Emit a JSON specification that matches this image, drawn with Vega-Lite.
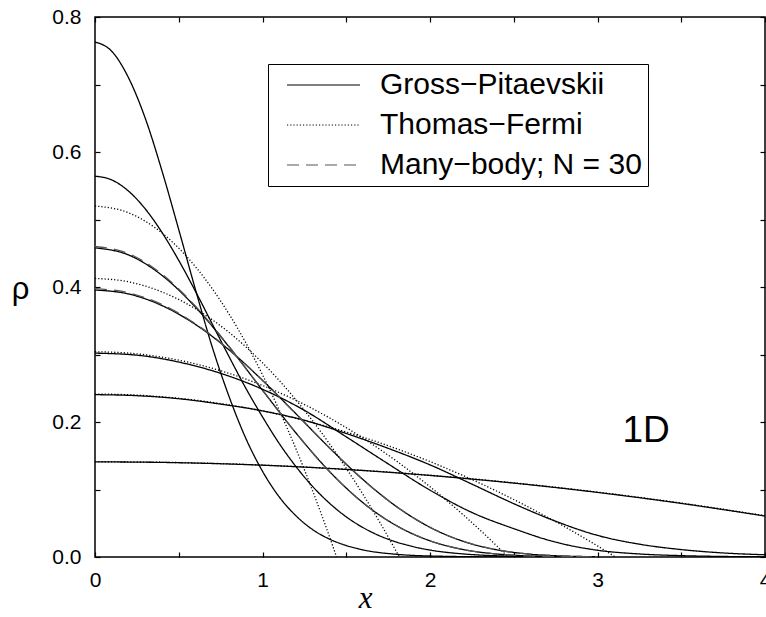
{
  "$schema": "https://vega.github.io/schema/vega-lite/v6.json",
  "width": 670,
  "height": 540,
  "autosize": "none",
  "padding": {"left": 95, "top": 17, "right": 1, "bottom": 60},
  "background": "white",
  "config": {
    "view": {"stroke": "black", "strokeWidth": 1.5},
    "font": "Liberation Sans"
  },
  "datasets": {
    "curves": [
      {"curve": "GPa", "method": "Gross−Pitaevskii", "x": 0, "y": 0.763},
      {"curve": "GPa", "method": "Gross−Pitaevskii", "x": 0.1, "y": 0.7492},
      {"curve": "GPa", "method": "Gross−Pitaevskii", "x": 0.2, "y": 0.71},
      {"curve": "GPa", "method": "Gross−Pitaevskii", "x": 0.3, "y": 0.65},
      {"curve": "GPa", "method": "Gross−Pitaevskii", "x": 0.4, "y": 0.572},
      {"curve": "GPa", "method": "Gross−Pitaevskii", "x": 0.5, "y": 0.485},
      {"curve": "GPa", "method": "Gross−Pitaevskii", "x": 0.6, "y": 0.396},
      {"curve": "GPa", "method": "Gross−Pitaevskii", "x": 0.7, "y": 0.311},
      {"curve": "GPa", "method": "Gross−Pitaevskii", "x": 0.8, "y": 0.238},
      {"curve": "GPa", "method": "Gross−Pitaevskii", "x": 0.9, "y": 0.176},
      {"curve": "GPa", "method": "Gross−Pitaevskii", "x": 1.0, "y": 0.127},
      {"curve": "GPa", "method": "Gross−Pitaevskii", "x": 1.1, "y": 0.089},
      {"curve": "GPa", "method": "Gross−Pitaevskii", "x": 1.2, "y": 0.061},
      {"curve": "GPa", "method": "Gross−Pitaevskii", "x": 1.3, "y": 0.0405},
      {"curve": "GPa", "method": "Gross−Pitaevskii", "x": 1.4, "y": 0.0265},
      {"curve": "GPa", "method": "Gross−Pitaevskii", "x": 1.5, "y": 0.017},
      {"curve": "GPa", "method": "Gross−Pitaevskii", "x": 1.6, "y": 0.0105},
      {"curve": "GPa", "method": "Gross−Pitaevskii", "x": 1.8, "y": 0.004},
      {"curve": "GPa", "method": "Gross−Pitaevskii", "x": 2.0, "y": 0.0015},
      {"curve": "GPa", "method": "Gross−Pitaevskii", "x": 2.4, "y": 0.0002},
      {"curve": "GPa", "method": "Gross−Pitaevskii", "x": 3.0, "y": 0},
      {"curve": "GP0", "method": "Gross−Pitaevskii", "x": 0, "y": 0.5642},
      {"curve": "GP0", "method": "Gross−Pitaevskii", "x": 0.1, "y": 0.5586},
      {"curve": "GP0", "method": "Gross−Pitaevskii", "x": 0.2, "y": 0.5421},
      {"curve": "GP0", "method": "Gross−Pitaevskii", "x": 0.3, "y": 0.5157},
      {"curve": "GP0", "method": "Gross−Pitaevskii", "x": 0.4, "y": 0.4808},
      {"curve": "GP0", "method": "Gross−Pitaevskii", "x": 0.5, "y": 0.4394},
      {"curve": "GP0", "method": "Gross−Pitaevskii", "x": 0.6, "y": 0.3935},
      {"curve": "GP0", "method": "Gross−Pitaevskii", "x": 0.7, "y": 0.3452},
      {"curve": "GP0", "method": "Gross−Pitaevskii", "x": 0.8, "y": 0.297},
      {"curve": "GP0", "method": "Gross−Pitaevskii", "x": 0.9, "y": 0.2502},
      {"curve": "GP0", "method": "Gross−Pitaevskii", "x": 1.0, "y": 0.2076},
      {"curve": "GP0", "method": "Gross−Pitaevskii", "x": 1.1, "y": 0.1681},
      {"curve": "GP0", "method": "Gross−Pitaevskii", "x": 1.2, "y": 0.1339},
      {"curve": "GP0", "method": "Gross−Pitaevskii", "x": 1.3, "y": 0.1043},
      {"curve": "GP0", "method": "Gross−Pitaevskii", "x": 1.4, "y": 0.0797},
      {"curve": "GP0", "method": "Gross−Pitaevskii", "x": 1.5, "y": 0.0595},
      {"curve": "GP0", "method": "Gross−Pitaevskii", "x": 1.6, "y": 0.0436},
      {"curve": "GP0", "method": "Gross−Pitaevskii", "x": 1.7, "y": 0.0313},
      {"curve": "GP0", "method": "Gross−Pitaevskii", "x": 1.8, "y": 0.0221},
      {"curve": "GP0", "method": "Gross−Pitaevskii", "x": 1.9, "y": 0.0153},
      {"curve": "GP0", "method": "Gross−Pitaevskii", "x": 2.0, "y": 0.0103},
      {"curve": "GP0", "method": "Gross−Pitaevskii", "x": 2.2, "y": 0.0045},
      {"curve": "GP0", "method": "Gross−Pitaevskii", "x": 2.4, "y": 0.0018},
      {"curve": "GP0", "method": "Gross−Pitaevskii", "x": 2.6, "y": 0.0007},
      {"curve": "GP0", "method": "Gross−Pitaevskii", "x": 3.0, "y": 0.0001},
      {"curve": "GP2", "method": "Gross−Pitaevskii", "x": 0, "y": 0.458},
      {"curve": "GP2", "method": "Gross−Pitaevskii", "x": 0.2, "y": 0.4475},
      {"curve": "GP2", "method": "Gross−Pitaevskii", "x": 0.4, "y": 0.4172},
      {"curve": "GP2", "method": "Gross−Pitaevskii", "x": 0.6, "y": 0.3702},
      {"curve": "GP2", "method": "Gross−Pitaevskii", "x": 0.8, "y": 0.3114},
      {"curve": "GP2", "method": "Gross−Pitaevskii", "x": 1.0, "y": 0.2471},
      {"curve": "GP2", "method": "Gross−Pitaevskii", "x": 1.2, "y": 0.1837},
      {"curve": "GP2", "method": "Gross−Pitaevskii", "x": 1.4, "y": 0.1267},
      {"curve": "GP2", "method": "Gross−Pitaevskii", "x": 1.6, "y": 0.0804},
      {"curve": "GP2", "method": "Gross−Pitaevskii", "x": 1.8, "y": 0.0464},
      {"curve": "GP2", "method": "Gross−Pitaevskii", "x": 2.0, "y": 0.024},
      {"curve": "GP2", "method": "Gross−Pitaevskii", "x": 2.2, "y": 0.011},
      {"curve": "GP2", "method": "Gross−Pitaevskii", "x": 2.4, "y": 0.0044},
      {"curve": "GP2", "method": "Gross−Pitaevskii", "x": 2.6, "y": 0.0015},
      {"curve": "GP2", "method": "Gross−Pitaevskii", "x": 2.8, "y": 0.0004},
      {"curve": "GP2", "method": "Gross−Pitaevskii", "x": 3.0, "y": 0.0001},
      {"curve": "GP4", "method": "Gross−Pitaevskii", "x": 0, "y": 0.3955},
      {"curve": "GP4", "method": "Gross−Pitaevskii", "x": 0.2, "y": 0.3897},
      {"curve": "GP4", "method": "Gross−Pitaevskii", "x": 0.4, "y": 0.3725},
      {"curve": "GP4", "method": "Gross−Pitaevskii", "x": 0.6, "y": 0.3445},
      {"curve": "GP4", "method": "Gross−Pitaevskii", "x": 0.8, "y": 0.3069},
      {"curve": "GP4", "method": "Gross−Pitaevskii", "x": 1.0, "y": 0.2617},
      {"curve": "GP4", "method": "Gross−Pitaevskii", "x": 1.2, "y": 0.2121},
      {"curve": "GP4", "method": "Gross−Pitaevskii", "x": 1.4, "y": 0.1617},
      {"curve": "GP4", "method": "Gross−Pitaevskii", "x": 1.6, "y": 0.1147},
      {"curve": "GP4", "method": "Gross−Pitaevskii", "x": 1.8, "y": 0.0747},
      {"curve": "GP4", "method": "Gross−Pitaevskii", "x": 2.0, "y": 0.044},
      {"curve": "GP4", "method": "Gross−Pitaevskii", "x": 2.2, "y": 0.0231},
      {"curve": "GP4", "method": "Gross−Pitaevskii", "x": 2.4, "y": 0.0106},
      {"curve": "GP4", "method": "Gross−Pitaevskii", "x": 2.6, "y": 0.0041},
      {"curve": "GP4", "method": "Gross−Pitaevskii", "x": 2.8, "y": 0.0014},
      {"curve": "GP4", "method": "Gross−Pitaevskii", "x": 3.0, "y": 0.0004},
      {"curve": "GP10", "method": "Gross−Pitaevskii", "x": 0, "y": 0.302},
      {"curve": "GP10", "method": "Gross−Pitaevskii", "x": 0.25, "y": 0.299},
      {"curve": "GP10", "method": "Gross−Pitaevskii", "x": 0.5, "y": 0.2888},
      {"curve": "GP10", "method": "Gross−Pitaevskii", "x": 0.75, "y": 0.2721},
      {"curve": "GP10", "method": "Gross−Pitaevskii", "x": 1.0, "y": 0.2485},
      {"curve": "GP10", "method": "Gross−Pitaevskii", "x": 1.25, "y": 0.2173},
      {"curve": "GP10", "method": "Gross−Pitaevskii", "x": 1.5, "y": 0.178},
      {"curve": "GP10", "method": "Gross−Pitaevskii", "x": 1.75, "y": 0.138},
      {"curve": "GP10", "method": "Gross−Pitaevskii", "x": 2.0, "y": 0.099},
      {"curve": "GP10", "method": "Gross−Pitaevskii", "x": 2.25, "y": 0.066},
      {"curve": "GP10", "method": "Gross−Pitaevskii", "x": 2.5, "y": 0.042},
      {"curve": "GP10", "method": "Gross−Pitaevskii", "x": 2.75, "y": 0.022},
      {"curve": "GP10", "method": "Gross−Pitaevskii", "x": 3.0, "y": 0.01},
      {"curve": "GP10", "method": "Gross−Pitaevskii", "x": 3.25, "y": 0.0045},
      {"curve": "GP10", "method": "Gross−Pitaevskii", "x": 3.5, "y": 0.002},
      {"curve": "GP10", "method": "Gross−Pitaevskii", "x": 3.75, "y": 0.0008},
      {"curve": "GP10", "method": "Gross−Pitaevskii", "x": 4.0, "y": 0.0003},
      {"curve": "GP20", "method": "Gross−Pitaevskii", "x": 0, "y": 0.2405},
      {"curve": "GP20", "method": "Gross−Pitaevskii", "x": 0.25, "y": 0.239},
      {"curve": "GP20", "method": "Gross−Pitaevskii", "x": 0.5, "y": 0.2345},
      {"curve": "GP20", "method": "Gross−Pitaevskii", "x": 0.75, "y": 0.2265},
      {"curve": "GP20", "method": "Gross−Pitaevskii", "x": 1.0, "y": 0.2165},
      {"curve": "GP20", "method": "Gross−Pitaevskii", "x": 1.25, "y": 0.2025},
      {"curve": "GP20", "method": "Gross−Pitaevskii", "x": 1.5, "y": 0.183},
      {"curve": "GP20", "method": "Gross−Pitaevskii", "x": 1.75, "y": 0.161},
      {"curve": "GP20", "method": "Gross−Pitaevskii", "x": 2.0, "y": 0.1365},
      {"curve": "GP20", "method": "Gross−Pitaevskii", "x": 2.25, "y": 0.108},
      {"curve": "GP20", "method": "Gross−Pitaevskii", "x": 2.5, "y": 0.079},
      {"curve": "GP20", "method": "Gross−Pitaevskii", "x": 2.75, "y": 0.053},
      {"curve": "GP20", "method": "Gross−Pitaevskii", "x": 3.0, "y": 0.032},
      {"curve": "GP20", "method": "Gross−Pitaevskii", "x": 3.25, "y": 0.019},
      {"curve": "GP20", "method": "Gross−Pitaevskii", "x": 3.5, "y": 0.011},
      {"curve": "GP20", "method": "Gross−Pitaevskii", "x": 3.75, "y": 0.006},
      {"curve": "GP20", "method": "Gross−Pitaevskii", "x": 4.0, "y": 0.0033},
      {"curve": "GP100", "method": "Gross−Pitaevskii", "x": 0, "y": 0.141},
      {"curve": "GP100", "method": "Gross−Pitaevskii", "x": 0.5, "y": 0.1397},
      {"curve": "GP100", "method": "Gross−Pitaevskii", "x": 1.0, "y": 0.136},
      {"curve": "GP100", "method": "Gross−Pitaevskii", "x": 1.5, "y": 0.1297},
      {"curve": "GP100", "method": "Gross−Pitaevskii", "x": 2.0, "y": 0.1208},
      {"curve": "GP100", "method": "Gross−Pitaevskii", "x": 2.5, "y": 0.1095},
      {"curve": "GP100", "method": "Gross−Pitaevskii", "x": 3.0, "y": 0.0957},
      {"curve": "GP100", "method": "Gross−Pitaevskii", "x": 3.5, "y": 0.0794},
      {"curve": "GP100", "method": "Gross−Pitaevskii", "x": 4.0, "y": 0.0607},
      {"curve": "TF2", "method": "Thomas−Fermi", "x": 0, "y": 0.52},
      {"curve": "TF2", "method": "Thomas−Fermi", "x": 0.2, "y": 0.51},
      {"curve": "TF2", "method": "Thomas−Fermi", "x": 0.4, "y": 0.48},
      {"curve": "TF2", "method": "Thomas−Fermi", "x": 0.6, "y": 0.43},
      {"curve": "TF2", "method": "Thomas−Fermi", "x": 0.8, "y": 0.36},
      {"curve": "TF2", "method": "Thomas−Fermi", "x": 1.0, "y": 0.27},
      {"curve": "TF2", "method": "Thomas−Fermi", "x": 1.2, "y": 0.16},
      {"curve": "TF2", "method": "Thomas−Fermi", "x": 1.3, "y": 0.0975},
      {"curve": "TF2", "method": "Thomas−Fermi", "x": 1.4, "y": 0.03},
      {"curve": "TF2", "method": "Thomas−Fermi", "x": 1.4422, "y": 0},
      {"curve": "TF4", "method": "Thomas−Fermi", "x": 0, "y": 0.4127},
      {"curve": "TF4", "method": "Thomas−Fermi", "x": 0.2, "y": 0.4077},
      {"curve": "TF4", "method": "Thomas−Fermi", "x": 0.4, "y": 0.3927},
      {"curve": "TF4", "method": "Thomas−Fermi", "x": 0.6, "y": 0.3677},
      {"curve": "TF4", "method": "Thomas−Fermi", "x": 0.8, "y": 0.3327},
      {"curve": "TF4", "method": "Thomas−Fermi", "x": 1.0, "y": 0.2877},
      {"curve": "TF4", "method": "Thomas−Fermi", "x": 1.2, "y": 0.2327},
      {"curve": "TF4", "method": "Thomas−Fermi", "x": 1.4, "y": 0.1677},
      {"curve": "TF4", "method": "Thomas−Fermi", "x": 1.6, "y": 0.0927},
      {"curve": "TF4", "method": "Thomas−Fermi", "x": 1.7, "y": 0.0515},
      {"curve": "TF4", "method": "Thomas−Fermi", "x": 1.8, "y": 0.0077},
      {"curve": "TF4", "method": "Thomas−Fermi", "x": 1.8171, "y": 0},
      {"curve": "TF10", "method": "Thomas−Fermi", "x": 0, "y": 0.3041},
      {"curve": "TF10", "method": "Thomas−Fermi", "x": 0.2, "y": 0.3021},
      {"curve": "TF10", "method": "Thomas−Fermi", "x": 0.4, "y": 0.2961},
      {"curve": "TF10", "method": "Thomas−Fermi", "x": 0.6, "y": 0.2861},
      {"curve": "TF10", "method": "Thomas−Fermi", "x": 0.8, "y": 0.2721},
      {"curve": "TF10", "method": "Thomas−Fermi", "x": 1.0, "y": 0.2541},
      {"curve": "TF10", "method": "Thomas−Fermi", "x": 1.2, "y": 0.2321},
      {"curve": "TF10", "method": "Thomas−Fermi", "x": 1.4, "y": 0.2061},
      {"curve": "TF10", "method": "Thomas−Fermi", "x": 1.6, "y": 0.1761},
      {"curve": "TF10", "method": "Thomas−Fermi", "x": 1.8, "y": 0.1421},
      {"curve": "TF10", "method": "Thomas−Fermi", "x": 2.0, "y": 0.1041},
      {"curve": "TF10", "method": "Thomas−Fermi", "x": 2.2, "y": 0.0621},
      {"curve": "TF10", "method": "Thomas−Fermi", "x": 2.4, "y": 0.0161},
      {"curve": "TF10", "method": "Thomas−Fermi", "x": 2.4662, "y": 0},
      {"curve": "TF20", "method": "Thomas−Fermi", "x": 0, "y": 0.2414},
      {"curve": "TF20", "method": "Thomas−Fermi", "x": 0.2, "y": 0.2404},
      {"curve": "TF20", "method": "Thomas−Fermi", "x": 0.4, "y": 0.2374},
      {"curve": "TF20", "method": "Thomas−Fermi", "x": 0.6, "y": 0.2324},
      {"curve": "TF20", "method": "Thomas−Fermi", "x": 0.8, "y": 0.2254},
      {"curve": "TF20", "method": "Thomas−Fermi", "x": 1.0, "y": 0.2164},
      {"curve": "TF20", "method": "Thomas−Fermi", "x": 1.2, "y": 0.2054},
      {"curve": "TF20", "method": "Thomas−Fermi", "x": 1.4, "y": 0.1924},
      {"curve": "TF20", "method": "Thomas−Fermi", "x": 1.6, "y": 0.1774},
      {"curve": "TF20", "method": "Thomas−Fermi", "x": 1.8, "y": 0.1604},
      {"curve": "TF20", "method": "Thomas−Fermi", "x": 2.0, "y": 0.1414},
      {"curve": "TF20", "method": "Thomas−Fermi", "x": 2.2, "y": 0.1204},
      {"curve": "TF20", "method": "Thomas−Fermi", "x": 2.4, "y": 0.0974},
      {"curve": "TF20", "method": "Thomas−Fermi", "x": 2.6, "y": 0.0724},
      {"curve": "TF20", "method": "Thomas−Fermi", "x": 2.8, "y": 0.0454},
      {"curve": "TF20", "method": "Thomas−Fermi", "x": 3.0, "y": 0.0164},
      {"curve": "TF20", "method": "Thomas−Fermi", "x": 3.1072, "y": 0},
      {"curve": "TF100", "method": "Thomas−Fermi", "x": 0, "y": 0.1412},
      {"curve": "TF100", "method": "Thomas−Fermi", "x": 0.5, "y": 0.1399},
      {"curve": "TF100", "method": "Thomas−Fermi", "x": 1.0, "y": 0.1362},
      {"curve": "TF100", "method": "Thomas−Fermi", "x": 1.5, "y": 0.1299},
      {"curve": "TF100", "method": "Thomas−Fermi", "x": 2.0, "y": 0.1212},
      {"curve": "TF100", "method": "Thomas−Fermi", "x": 2.5, "y": 0.1099},
      {"curve": "TF100", "method": "Thomas−Fermi", "x": 3.0, "y": 0.0962},
      {"curve": "TF100", "method": "Thomas−Fermi", "x": 3.5, "y": 0.0799},
      {"curve": "TF100", "method": "Thomas−Fermi", "x": 4.0, "y": 0.0612},
      {"curve": "MB2", "method": "Many−body; N = 30", "x": 0, "y": 0.46},
      {"curve": "MB2", "method": "Many−body; N = 30", "x": 0.2, "y": 0.4495},
      {"curve": "MB2", "method": "Many−body; N = 30", "x": 0.4, "y": 0.419},
      {"curve": "MB2", "method": "Many−body; N = 30", "x": 0.6, "y": 0.3715},
      {"curve": "MB2", "method": "Many−body; N = 30", "x": 0.8, "y": 0.312},
      {"curve": "MB2", "method": "Many−body; N = 30", "x": 1.0, "y": 0.2472},
      {"curve": "MB2", "method": "Many−body; N = 30", "x": 1.2, "y": 0.1836},
      {"curve": "MB2", "method": "Many−body; N = 30", "x": 1.4, "y": 0.1265},
      {"curve": "MB2", "method": "Many−body; N = 30", "x": 1.6, "y": 0.0802},
      {"curve": "MB2", "method": "Many−body; N = 30", "x": 1.8, "y": 0.0463},
      {"curve": "MB2", "method": "Many−body; N = 30", "x": 2.0, "y": 0.024},
      {"curve": "MB2", "method": "Many−body; N = 30", "x": 2.2, "y": 0.011},
      {"curve": "MB2", "method": "Many−body; N = 30", "x": 2.4, "y": 0.0044},
      {"curve": "MB2", "method": "Many−body; N = 30", "x": 2.6, "y": 0.0015},
      {"curve": "MB2", "method": "Many−body; N = 30", "x": 3.0, "y": 0.0001},
      {"curve": "MB4", "method": "Many−body; N = 30", "x": 0, "y": 0.3975},
      {"curve": "MB4", "method": "Many−body; N = 30", "x": 0.2, "y": 0.3915},
      {"curve": "MB4", "method": "Many−body; N = 30", "x": 0.4, "y": 0.374},
      {"curve": "MB4", "method": "Many−body; N = 30", "x": 0.6, "y": 0.3455},
      {"curve": "MB4", "method": "Many−body; N = 30", "x": 0.8, "y": 0.3073},
      {"curve": "MB4", "method": "Many−body; N = 30", "x": 1.0, "y": 0.2617},
      {"curve": "MB4", "method": "Many−body; N = 30", "x": 1.2, "y": 0.2119},
      {"curve": "MB4", "method": "Many−body; N = 30", "x": 1.4, "y": 0.1614},
      {"curve": "MB4", "method": "Many−body; N = 30", "x": 1.6, "y": 0.1145},
      {"curve": "MB4", "method": "Many−body; N = 30", "x": 1.8, "y": 0.0746},
      {"curve": "MB4", "method": "Many−body; N = 30", "x": 2.0, "y": 0.044},
      {"curve": "MB4", "method": "Many−body; N = 30", "x": 2.2, "y": 0.0231},
      {"curve": "MB4", "method": "Many−body; N = 30", "x": 2.4, "y": 0.0106},
      {"curve": "MB4", "method": "Many−body; N = 30", "x": 2.6, "y": 0.0041},
      {"curve": "MB4", "method": "Many−body; N = 30", "x": 3.0, "y": 0.0004}
    ],
    "notes": [
      {"x": 3.29, "y": 0.17, "label": "1D"}
    ]
  },
  "layer": [
    {
      "data": {"name": "curves"},
      "mark": {"type": "line", "interpolate": "monotone", "strokeWidth": 1.3, "clip": true},
      "encoding": {
        "x": {
          "field": "x", "type": "quantitative",
          "scale": {"domain": [0, 4], "nice": false},
          "axis": {
            "orient": "bottom",
            "values": [0, 0.5, 1, 1.5, 2, 2.5, 3, 3.5, 4],
            "labelExpr": "datum.value % 1 == 0 ? format(datum.value, 'd') : ''",
            "domain": false, "grid": false,
            "tickSize": -5, "tickColor": "black", "tickWidth": 1.2,
            "labelPadding": 17, "labelFontSize": 21, "labelFont": "Liberation Sans", "labelColor": "black",
            "labelFlush": false, "labelOverlap": false,
            "title": "x", "titleFont": "Liberation Serif", "titleFontStyle": "italic",
            "titleFontWeight": "normal", "titleFontSize": 31, "titleColor": "black",
            "titleX": 270, "titleY": 50, "titleAlign": "center", "titleBaseline": "alphabetic"
          }
        },
        "y": {
          "field": "y", "type": "quantitative",
          "scale": {"domain": [0, 0.8], "nice": false},
          "axis": {
            "orient": "left",
            "values": [0, 0.1, 0.2, 0.3, 0.4, 0.5, 0.6, 0.7, 0.8],
            "labelExpr": "round(datum.value * 10) % 2 == 0 ? format(datum.value, '.1f') : ''",
            "domain": false, "grid": false,
            "tickSize": -5, "tickColor": "black", "tickWidth": 1.2,
            "labelPadding": 19, "labelFontSize": 21, "labelFont": "Liberation Sans", "labelColor": "black",
            "labelFlush": false, "labelOverlap": false,
            "title": "ρ", "titleFont": "Liberation Sans", "titleFontWeight": "normal",
            "titleFontSize": 31, "titleColor": "black", "titleAngle": 0,
            "titleX": -75, "titleY": 272, "titleAlign": "center", "titleBaseline": "middle"
          }
        },
        "detail": {"field": "curve"},
        "color": {
          "field": "method", "type": "nominal",
          "scale": {"domain": ["Gross−Pitaevskii", "Thomas−Fermi", "Many−body; N = 30"], "range": ["black", "black", "#555555"]},
          "legend": {
            "orient": "none", "legendX": 173, "legendY": 47, "title": null,
            "symbolType": "stroke", "symbolSize": 5329, "symbolStrokeWidth": 1.2,
            "labelFontSize": 30, "labelFont": "Liberation Sans", "labelColor": "black",
            "labelOffset": 19, "symbolOffset": 12, "padding": 6, "strokeColor": "black",
            "rowPadding": 10, "clipHeight": 30, "labelLimit": 400
          }
        },
        "strokeDash": {
          "field": "method", "type": "nominal",
          "scale": {"domain": ["Gross−Pitaevskii", "Thomas−Fermi", "Many−body; N = 30"], "range": [[1, 0], [1.2, 2], [12, 7]]},
          "legend": {
            "orient": "none", "legendX": 173, "legendY": 47, "title": null,
            "symbolType": "stroke", "symbolSize": 5329, "symbolStrokeWidth": 1.2,
            "labelFontSize": 30, "labelFont": "Liberation Sans", "labelColor": "black",
            "labelOffset": 19, "symbolOffset": 12, "padding": 6, "strokeColor": "black",
            "rowPadding": 10, "clipHeight": 30, "labelLimit": 400
          }
        }
      }
    },
    {
      "data": {"name": "curves"},
      "mark": {"type": "line", "strokeOpacity": 0, "clip": true},
      "encoding": {
        "x": {
          "field": "x", "type": "quantitative",
          "axis": {
            "orient": "top",
            "values": [0, 0.5, 1, 1.5, 2, 2.5, 3, 3.5, 4],
            "labels": false, "domain": false, "grid": false,
            "tickSize": -5, "tickColor": "black", "tickWidth": 1.2, "title": null
          }
        },
        "y": {
          "field": "y", "type": "quantitative",
          "axis": {
            "orient": "right",
            "values": [0, 0.1, 0.2, 0.3, 0.4, 0.5, 0.6, 0.7, 0.8],
            "labels": false, "domain": false, "grid": false,
            "tickSize": -5, "tickColor": "black", "tickWidth": 1.2, "title": null
          }
        },
        "detail": {"field": "curve"}
      }
    },
    {
      "data": {"name": "notes"},
      "mark": {"type": "text", "fontSize": 37, "font": "Liberation Sans", "align": "center", "baseline": "alphabetic", "color": "black"},
      "encoding": {
        "x": {"field": "x", "type": "quantitative", "axis": null},
        "y": {"field": "y", "type": "quantitative", "axis": null},
        "text": {"field": "label"}
      }
    }
  ],
  "resolve": {"axis": {"x": "independent", "y": "independent"}}
}
